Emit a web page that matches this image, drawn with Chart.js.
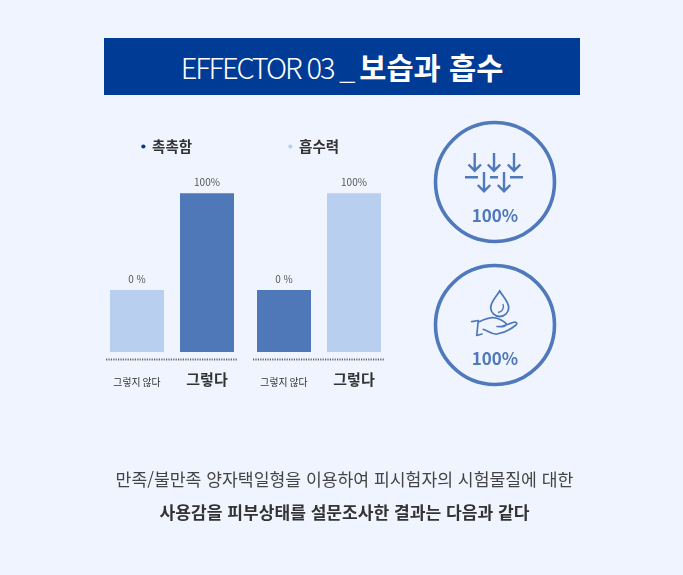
<!DOCTYPE html>
<html lang="ko">
<head>
<meta charset="utf-8">
<title>EFFECTOR 03</title>
<script src="https://cdn.jsdelivr.net/npm/chart.js@4"></script>
<style>
  html, body { margin: 0; padding: 0; }
  body { position: relative; width: 683px; height: 575px; overflow: hidden; background: #eff4ff; font-family: "Noto Sans CJK KR", "Noto Sans", sans-serif; }
  .banner { position: absolute; left: 104px; top: 38px; width: 476px; height: 57px; background: #003c96; color: #fff; text-align: center; line-height: 57px; font-size: 29px; white-space: nowrap; }
  .banner .en { font-weight: 300; letter-spacing: -2.1px; }
  .banner b { font-weight: 700; font-size: 29.5px; letter-spacing: 0; }
  canvas { position: absolute; }
  #chartA { left: 92px; top: 131px; }
  #chartB { left: 239px; top: 131px; }
  svg { position: absolute; left: 0; top: 0; }
  .note { position: absolute; left: 0; width: 689px; text-align: center; white-space: nowrap; color: #444; font-size: 17.2px; line-height: 24px; }
  .note.bold { color: #333; font-weight: 700; font-size: 17.1px; }
</style>
</head>
<body>
<div class="banner"><span class="en">EFFECTOR 03 _ </span><b>보습과 흡수</b></div>
<canvas id="chartA"></canvas>
<canvas id="chartB"></canvas>

<svg width="683" height="575" fill="none" stroke="#4f79ba" stroke-width="2.4">
  <circle cx="495" cy="182" r="59.5" stroke-width="3.6"/>
  <circle cx="495" cy="325" r="59.5" stroke-width="3.6"/>
  <path d="M474.7 153V170M468.5 164.5L474.7 170.7L481 164.5M494 153V170M487.8 164.5L494 170.7L500.3 164.5M514 153V170M507.8 164.5L514 170.7L520.3 164.5"/>
  <path d="M465 177.3H478M490 177.3H498M510 177.3H523"/>
  <path d="M484 172V191M477.8 185L484 191.3L490.3 185M504 172V191M497.8 185L504 191.3L510.3 185"/>
  <path d="M499.7 291C496 297 490.7 302 490.7 307.5A9 9 0 0 0 508.7 307.5C508.7 302 503.4 297 499.7 291Z" stroke-width="1.8"/>
  <path d="M503 304C504.5 308 502 312 498 312.5" stroke-width="1.4"/>
  <path d="M471.7 321.7L478.3 320.5L476.7 335.5L482 334M478.5 322C483 320 488 317.5 493.3 317.7C498 318 504 321 506 323.5C507.5 326 503 327 497 326.5M503 326L513 322.5C516 321.5 518 323 516 325C511 329 503 333 497 334C491 334.5 487 330 483.3 329.3" stroke-width="1.7" stroke-linejoin="round" stroke-linecap="round"/>
  <text x="495" y="222" text-anchor="middle" font-size="17" font-weight="700" fill="#4f79ba" stroke="none">100%</text>
  <text x="495" y="365" text-anchor="middle" font-size="17" font-weight="700" fill="#4f79ba" stroke="none">100%</text>
</svg>

<div class="note" style="top:467px">만족/불만족 양자택일형을 이용하여 피시험자의 시험물질에 대한</div>
<div class="note bold" style="top:500px">사용감을 피부상태를 설문조사한 결과는 다음과 같다</div>

<script>
const categories = ['그렇지 않다', '그렇다'];
const moistValues = [39, 100];
const absorbValues = [39, 100];
const valueLabels = ['0 %', '100%'];
const LIGHT = '#b8cff0';
const DARK = '#4e78b8';
const FONT = '"Noto Sans CJK KR", "Noto Sans", sans-serif';

// value text above bars + dotted base line
const barExtras = {
  id: 'barExtras',
  afterDatasetsDraw(chart) {
    const c = chart.ctx;
    const bars = chart.getDatasetMeta(0).data;
    c.save();
    c.font = '10px ' + FONT;
    c.fillStyle = '#555';
    c.textAlign = 'center';
    c.textBaseline = 'middle';
    bars.forEach((b, i) => c.fillText(valueLabels[i], b.x, b.y - 11));
    const y = chart.chartArea.bottom + 7.5;
    c.strokeStyle = '#666';
    c.lineWidth = 2;
    c.setLineDash([1.2, 1.2]);
    c.beginPath();
    c.moveTo(chart.chartArea.left + 4, y);
    c.lineTo(chart.chartArea.right - 4, y);
    c.stroke();
    c.restore();
  }
};

function makeChart(id, name, values, colors, dotColor) {
  const canvas = document.getElementById(id);
  canvas.style.width = '150px';
  canvas.style.height = '264px';
  return new Chart(canvas.getContext('2d'), {
    type: 'bar',
    data: {
      labels: categories,
      datasets: [{
        label: name,
        data: values,
        backgroundColor: colors,
        categoryPercentage: 1,
        barPercentage: 54 / 70
      }]
    },
    options: {
      responsive: false,
      animation: false,
      layout: { padding: 0 },
      scales: {
        x: {
          grid: { display: false },
          border: { display: false },
          // tick padding also widens the side margins, so zero them
          afterFit(scale) { scale.height = 43; scale.paddingLeft = 0; scale.paddingRight = 0; },
          ticks: {
            padding: 19,
            crossAlign: 'center',
            maxRotation: 0,
            color: '#333',
            font: ctx => ctx.index === 1
              ? { family: FONT, size: 15, weight: '700' }
              : { family: FONT, size: 9.8 }
          }
        },
        y: {
          min: 0,
          max: 118.5,
          grid: { display: false },
          border: { display: false },
          ticks: { display: false },
          afterFit(scale) { scale.width = 10; }
        }
      },
      plugins: {
        tooltip: { enabled: false },
        legend: {
          position: 'top',
          labels: {
            usePointStyle: true,
            pointStyle: 'circle',
            boxWidth: 3,
            boxHeight: 3,
            padding: 8.25,
            color: '#333',
            font: { family: FONT, size: 14.5, weight: '700' },
            generateLabels: () => [{
              text: name,
              fillStyle: dotColor,
              strokeStyle: dotColor,
              lineWidth: 0,
              pointStyle: 'circle',
              fontColor: '#333',
              datasetIndex: 0
            }]
          }
        }
      }
    },
    plugins: [barExtras]
  });
}

function drawCharts() {
  makeChart('chartA', '촉촉함', moistValues, [LIGHT, DARK], '#003c96');
  makeChart('chartB', '흡수력', absorbValues, [DARK, LIGHT], LIGHT);
}
drawCharts();
</script>
</body>
</html>
